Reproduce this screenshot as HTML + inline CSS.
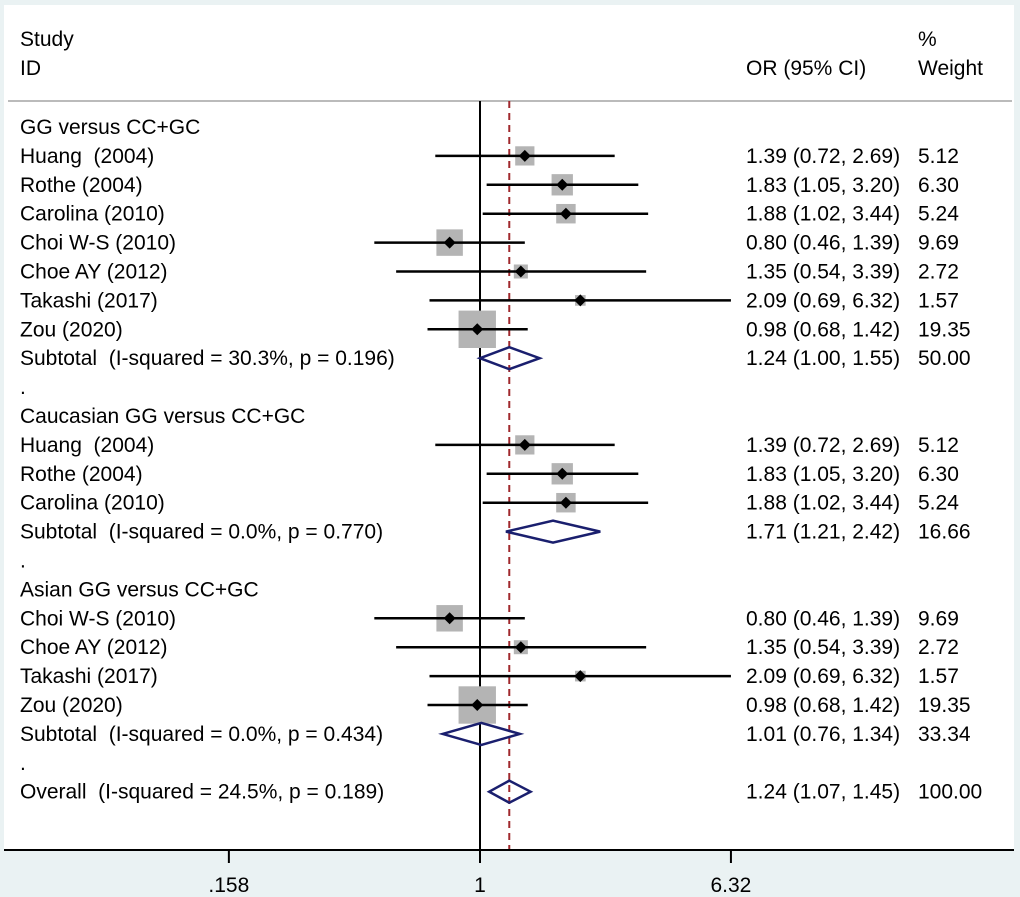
<!DOCTYPE html>
<html><head><meta charset="utf-8"><style>
html,body{margin:0;padding:0;background:#eaf2f3;}
svg{display:block;font-family:"Liberation Sans",Arial,sans-serif;}
text{white-space:pre;}
</style></head><body>
<svg id="c" width="1020" height="897" viewBox="0 0 1020 897">
<rect x="4" y="5" width="1010" height="845" fill="#fff"/>
<line x1="8" y1="101" x2="1012" y2="101" stroke="#bbb" stroke-width="2"/>
<text x="20" y="46" font-size="21">Study</text>
<text x="20" y="75" font-size="21">ID</text>
<text x="746" y="75" font-size="21">OR (95% CI)</text>
<text x="918" y="46" font-size="21">%</text>
<text x="918" y="75" font-size="21">Weight</text>
<g id="g"></g>
</svg>
<script>
const labels=["GG versus CC+GC","Huang  (2004)","Rothe (2004)","Carolina (2010)","Choi W-S (2010)","Choe AY (2012)","Takashi (2017)","Zou (2020)","Subtotal  (I-squared = 30.3%, p = 0.196)",".","Caucasian GG versus CC+GC","Huang  (2004)","Rothe (2004)","Carolina (2010)","Subtotal  (I-squared = 0.0%, p = 0.770)",".","Asian GG versus CC+GC","Choi W-S (2010)","Choe AY (2012)","Takashi (2017)","Zou (2020)","Subtotal  (I-squared = 0.0%, p = 0.434)",".","Overall  (I-squared = 24.5%, p = 0.189)"];
const kinds=["h","s","s","s","s","s","s","s","d","b","h","s","s","s","d","b","h","s","s","s","s","d","b","d"];
const ors=[null,1.39,1.83,1.88,0.80,1.35,2.09,0.98,1.24,null,null,1.39,1.83,1.88,1.71,null,null,0.80,1.35,2.09,0.98,1.01,null,1.24];
const lows=[null,0.72,1.05,1.02,0.46,0.54,0.69,0.68,1.00,null,null,0.72,1.05,1.02,1.21,null,null,0.46,0.54,0.69,0.68,0.76,null,1.07];
const highs=[null,2.69,3.20,3.44,1.39,3.39,6.32,1.42,1.55,null,null,2.69,3.20,3.44,2.42,null,null,1.39,3.39,6.32,1.42,1.34,null,1.45];
const weights=[null,5.12,6.30,5.24,9.69,2.72,1.57,19.35,50.00,null,null,5.12,6.30,5.24,16.66,null,null,9.69,2.72,1.57,19.35,33.34,null,100.00];
const ticks=[0.158,1,6.32];
const tickLabels=[".158","1","6.32"];
const overallOR=1.24;

const NS="http://www.w3.org/2000/svg";
const g=document.getElementById('g');
const X=v=>480+136.1*Math.log(v);
const Y=i=>127+28.9*i;
function mk(t,a,p){const e=document.createElementNS(NS,t);for(const k in a)e.setAttribute(k,a[k]);(p||g).appendChild(e);return e;}
let e;
e=mk('line',{x1:X(1),y1:101,x2:X(1),y2:850,stroke:'#000','stroke-width':2});


e=mk('line',{x1:X(overallOR),y1:101,x2:X(overallOR),y2:850,stroke:'#a0282d','stroke-width':2,'stroke-dasharray':'7,5'});


labels.forEach((l,i)=>{
  const y=Y(i);
  e=mk('text',{x:20,y:y+7,'font-size':21});e.textContent=l;
  
  
  if(ors[i]==null)return;
  const k=kinds[i];
  if(k==='s'){
    const s=8.5*Math.sqrt(weights[i]);
    e=mk('rect',{x:X(ors[i])-s/2,y:y-s/2,width:s,height:s,fill:'#b4b4b4'});
    
    
    e=mk('line',{x1:X(lows[i]),y1:y,x2:X(highs[i]),y2:y,stroke:'#000','stroke-width':2.5});
    
    
    const c=X(ors[i]);
    e=mk('polygon',{points:`${c-6},${y} ${c},${y-6} ${c+6},${y} ${c},${y+6}`,fill:'#000'});
    
    
  }else{
    const c=X(ors[i]),a=X(lows[i]),b=X(highs[i]);
    e=mk('polygon',{points:`${a},${y} ${c},${y-11} ${b},${y} ${c},${y+11}`,fill:'none',stroke:'#1a1f6e','stroke-width':2.5});
    
    
  }
  e=mk('text',{x:746,y:y+7,'font-size':21});
  e.textContent=`${ors[i].toFixed(2)} (${lows[i].toFixed(2)}, ${highs[i].toFixed(2)})`;
  
  
  e=mk('text',{x:918,y:y+7,'font-size':21});
  e.textContent=weights[i].toFixed(2);
  
  
});
e=mk('line',{x1:4,y1:850,x2:1014,y2:850,stroke:'#000','stroke-width':2});


ticks.forEach((t,i)=>{
  e=mk('line',{x1:X(t),y1:850,x2:X(t),y2:863,stroke:'#000','stroke-width':2});
  
  
  e=mk('text',{x:X(t),y:892,'font-size':21,'text-anchor':'middle'});
  e.textContent=tickLabels[i];
  
  
});
</script>
</body></html>
